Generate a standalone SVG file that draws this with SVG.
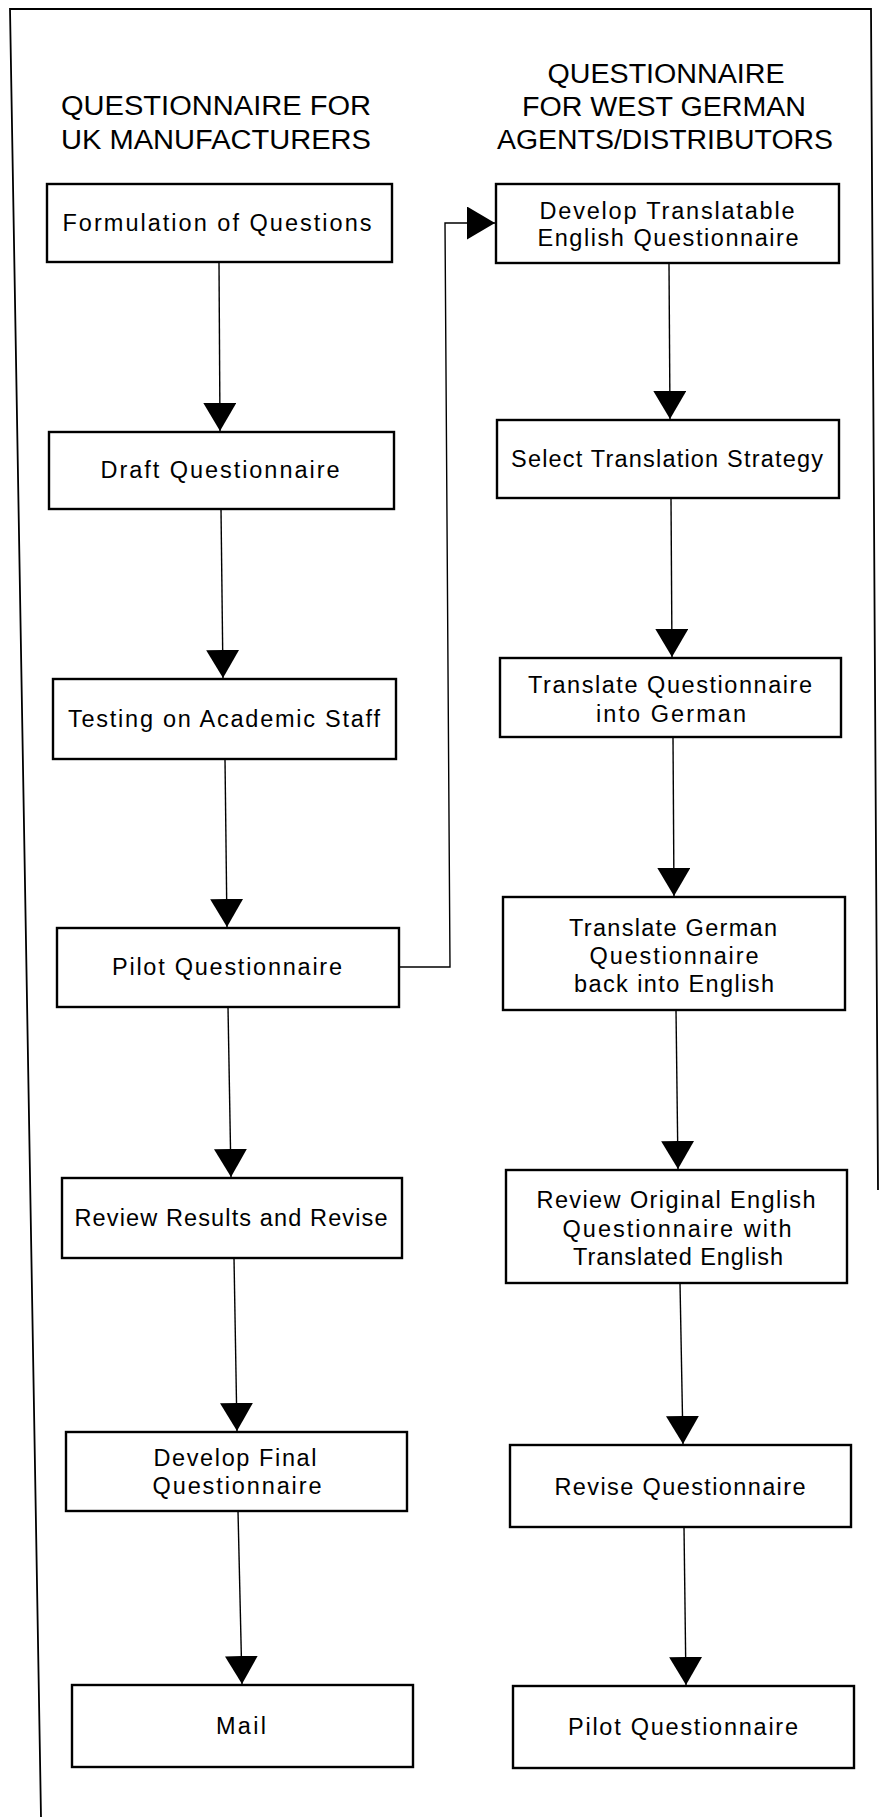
<svg xmlns="http://www.w3.org/2000/svg" width="880" height="1817" viewBox="0 0 880 1817">
<defs>
<style>
.box{fill:#fff;stroke:#000;stroke-width:2.4}
.t{font-family:"Liberation Sans",Arial,sans-serif;font-size:23.5px;fill:#000;text-anchor:middle}
.h{font-family:"Liberation Sans",Arial,sans-serif;font-size:27px;fill:#000;text-anchor:middle}
.c{fill:none;stroke:#000;stroke-width:1.4}
.frame{fill:none;stroke:#000;stroke-width:1.8}
</style>
<marker id="ah" viewBox="0 0 28 33" refX="28" refY="16.5" markerWidth="28" markerHeight="33" markerUnits="userSpaceOnUse" orient="auto">
<path d="M0,0 L28,16.5 L0,33 Z" fill="#000"/>
</marker>
</defs>
<rect width="880" height="1817" fill="#fff"/>
<g id="frame">
<path class="frame" d="M41,1817 L10,9 L871,9 L878,1190"/>
</g>
<g id="headers">
<text class="h" x="216" y="115" textLength="310" lengthAdjust="spacingAndGlyphs">QUESTIONNAIRE FOR</text>
<text class="h" x="216" y="149" textLength="310" lengthAdjust="spacingAndGlyphs">UK MANUFACTURERS</text>
<text class="h" x="666" y="83" textLength="237" lengthAdjust="spacingAndGlyphs">QUESTIONNAIRE</text>
<text class="h" x="664" y="116" textLength="284" lengthAdjust="spacingAndGlyphs">FOR WEST GERMAN</text>
<text class="h" x="665" y="149" textLength="336" lengthAdjust="spacingAndGlyphs">AGENTS/DISTRIBUTORS</text>
</g>
<g id="connectors">
<path class="c" marker-end="url(#ah)" d="M219,262 L220,431"/>
<path class="c" marker-end="url(#ah)" d="M221,509 L223,678"/>
<path class="c" marker-end="url(#ah)" d="M225,759 L227,927"/>
<path class="c" marker-end="url(#ah)" d="M228,1007 L231,1177"/>
<path class="c" marker-end="url(#ah)" d="M234,1258 L237,1431"/>
<path class="c" marker-end="url(#ah)" d="M238,1511 L242,1684"/>
<path class="c" marker-end="url(#ah)" d="M669,263 L670,419"/>
<path class="c" marker-end="url(#ah)" d="M671,498 L672,657"/>
<path class="c" marker-end="url(#ah)" d="M673,737 L674,896"/>
<path class="c" marker-end="url(#ah)" d="M676,1010 L678,1169"/>
<path class="c" marker-end="url(#ah)" d="M680,1283 L683,1444"/>
<path class="c" marker-end="url(#ah)" d="M684,1527 L686,1685"/>
<path class="c" marker-end="url(#ah)" d="M399,967 L450,967 L445,223 L495,223"/>
</g>
<g id="n-formulation">
<rect class="box" x="47" y="184" width="345" height="78"/>
<text class="t" x="217" y="231" textLength="309" lengthAdjust="spacing">Formulation of Questions</text>
</g>
<g id="n-draft">
<rect class="box" x="49" y="432" width="345" height="77"/>
<text class="t" x="220" y="478" textLength="239" lengthAdjust="spacing">Draft Questionnaire</text>
</g>
<g id="n-testing">
<rect class="box" x="53" y="679" width="343" height="80"/>
<text class="t" x="224" y="727" textLength="312" lengthAdjust="spacing">Testing on Academic Staff</text>
</g>
<g id="n-pilot-uk">
<rect class="box" x="57" y="928" width="342" height="79"/>
<text class="t" x="227" y="975" textLength="230" lengthAdjust="spacing">Pilot Questionnaire</text>
</g>
<g id="n-review-results">
<rect class="box" x="62" y="1178" width="340" height="80"/>
<text class="t" x="231" y="1226" textLength="313" lengthAdjust="spacing">Review Results and Revise</text>
</g>
<g id="n-develop-final">
<rect class="box" x="66" y="1432" width="341" height="79"/>
<text class="t"><tspan x="235" y="1466" textLength="163" lengthAdjust="spacing">Develop Final</tspan><tspan x="237" y="1494" textLength="169" lengthAdjust="spacing">Questionnaire</tspan></text>
</g>
<g id="n-mail">
<rect class="box" x="72" y="1685" width="341" height="82"/>
<text class="t" x="241" y="1734" textLength="50" lengthAdjust="spacing">Mail</text>
</g>
<g id="n-develop-translatable">
<rect class="box" x="496" y="184" width="343" height="79"/>
<text class="t"><tspan x="667" y="219" textLength="255" lengthAdjust="spacing">Develop Translatable</tspan><tspan x="668" y="246" textLength="261" lengthAdjust="spacing">English Questionnaire</tspan></text>
</g>
<g id="n-select-strategy">
<rect class="box" x="497" y="420" width="342" height="78"/>
<text class="t" x="667" y="467" textLength="312" lengthAdjust="spacing">Select Translation Strategy</text>
</g>
<g id="n-translate-german">
<rect class="box" x="500" y="658" width="341" height="79"/>
<text class="t"><tspan x="670" y="693" textLength="284" lengthAdjust="spacing">Translate Questionnaire</tspan><tspan x="671" y="722" textLength="150" lengthAdjust="spacing">into German</tspan></text>
</g>
<g id="n-back-translate">
<rect class="box" x="503" y="897" width="342" height="113"/>
<text class="t"><tspan x="673" y="936" textLength="208" lengthAdjust="spacing">Translate German</tspan><tspan x="674" y="964" textLength="169" lengthAdjust="spacing">Questionnaire</tspan><tspan x="674" y="992" textLength="200" lengthAdjust="spacing">back into English</tspan></text>
</g>
<g id="n-review-original">
<rect class="box" x="506" y="1170" width="341" height="113"/>
<text class="t"><tspan x="676" y="1208" textLength="279" lengthAdjust="spacing">Review Original English</tspan><tspan x="677" y="1237" textLength="229" lengthAdjust="spacing">Questionnaire with</tspan><tspan x="678" y="1265" textLength="210" lengthAdjust="spacing">Translated English</tspan></text>
</g>
<g id="n-revise">
<rect class="box" x="510" y="1445" width="341" height="82"/>
<text class="t" x="680" y="1495" textLength="251" lengthAdjust="spacing">Revise Questionnaire</text>
</g>
<g id="n-pilot-de">
<rect class="box" x="513" y="1686" width="341" height="82"/>
<text class="t" x="683" y="1735" textLength="230" lengthAdjust="spacing">Pilot Questionnaire</text>
</g>
</svg>
